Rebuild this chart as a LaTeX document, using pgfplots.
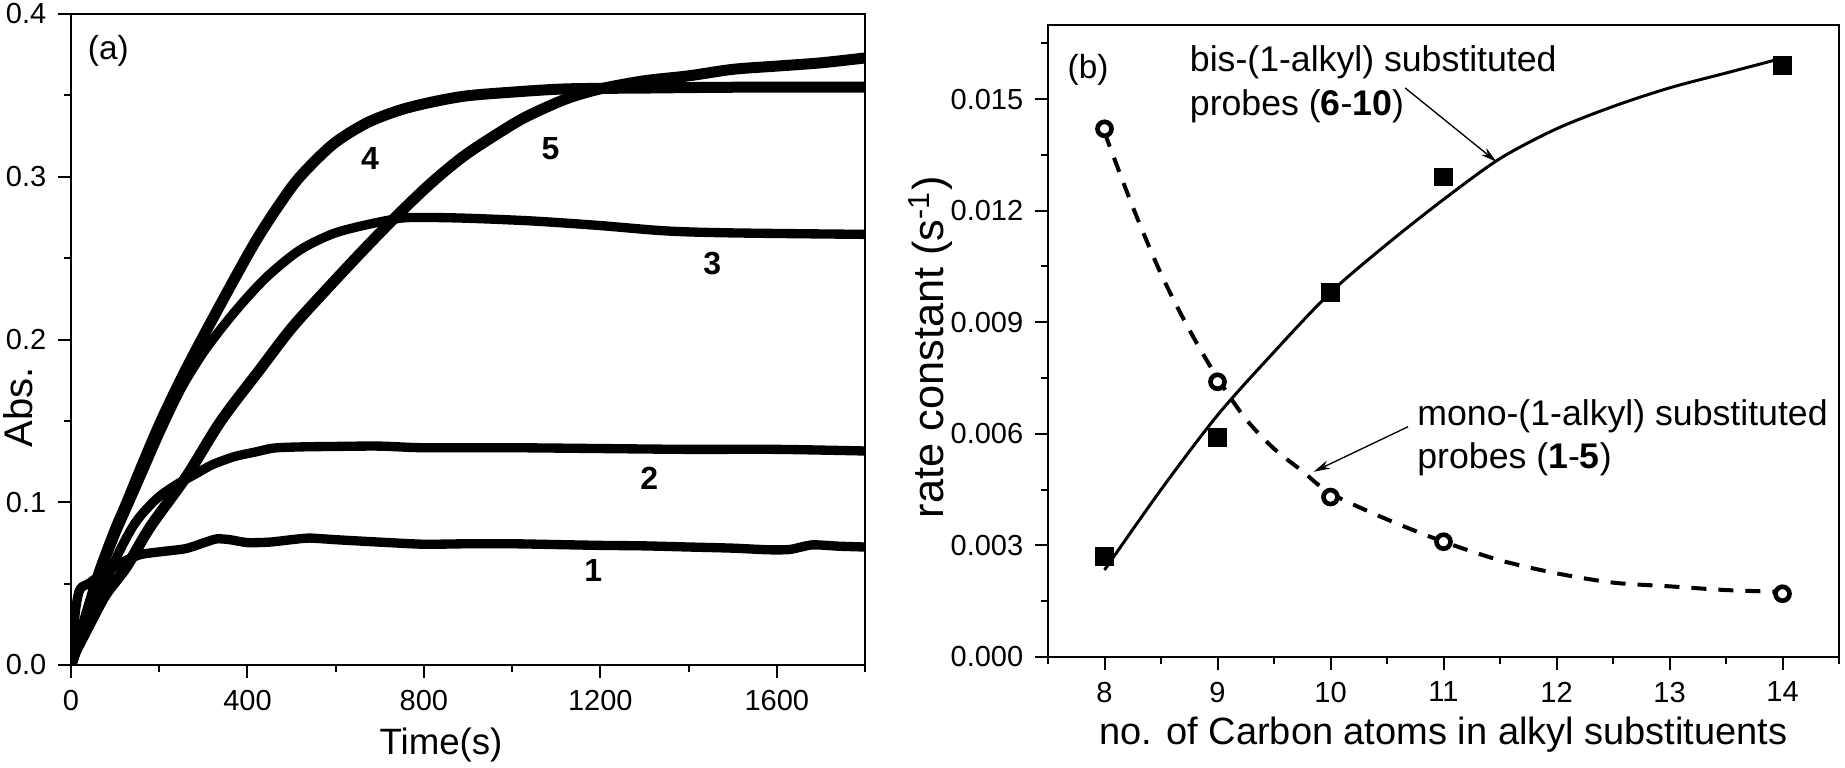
\documentclass[border=0pt]{standalone}
\usepackage{fontspec}
\setmainfont{Liberation Sans}
\usepackage{pgfplots}
\pgfplotsset{compat=1.18}
\usetikzlibrary{arrows.meta}

\begin{document}
\begin{tikzpicture}
\path[use as bounding box] (0,0) rectangle (553.5pt,230.1pt);
\pgfplotsset{
  every axis/.append style={
    scale only axis, anchor=south west,
    axis line style={line width=0.6pt},
    tick align=outside, xtick pos=left, ytick pos=left,
    major tick length=3.9pt, minor tick length=2pt,
    every tick/.style={black, line width=0.6pt},
    tick label style={font=\fontsize{8.7}{10}\selectfont},
    /pgf/number format/assume math mode=true,
    /pgf/number format/set thousands separator={},
  }
}
% ---------------- panel (a) ----------------
\begin{axis}[at={(21.3pt,30.6pt)}, width=238.2pt, height=195.3pt,
  xmin=0, xmax=1800, ymin=0, ymax=0.4,
  xtick={0,400,800,1200,1600}, ytick={0,0.1,0.2,0.3,0.4},
  minor xtick={200,600,1000,1400,1800}, minor ytick={0.05,0.15,0.25,0.35},
  yticklabel style={/pgf/number format/.cd, fixed, fixed zerofill, precision=1},
  xlabel={Time(s)}, ylabel={Abs.},
  xlabel style={font=\fontsize{11}{13}\selectfont, at={(axis description cs:0.466,-0.138)}, anchor=base},
  ylabel style={font=\fontsize{12}{14}\selectfont, at={(axis description cs:-0.066,0.396)}, anchor=center},
]
% curve 1
\addplot[black, line width=2.8pt, line join=round, line cap=round, smooth, tension=0.4] coordinates {
(0,0.000) (4,0.015) (8,0.028) (12,0.037) (18,0.045) (25,0.048) (40,0.050) (60,0.054)
(90,0.059) (130,0.065) (160,0.068) (200,0.0695) (260,0.0715) (300,0.075) (330,0.0775)
(360,0.077) (400,0.0752) (450,0.0755) (500,0.077) (540,0.078) (600,0.077) (700,0.0755)
(800,0.0742) (900,0.0745) (1000,0.0745) (1100,0.0740) (1200,0.0735) (1300,0.0732)
(1400,0.0725) (1500,0.0718) (1580,0.0708) (1630,0.0710) (1680,0.0738) (1740,0.0730) (1800,0.0725)};
% curve 2
\addplot[black, line width=2.8pt, line join=round, line cap=round, smooth] coordinates {
(0,0) (10,0.007) (25,0.017) (50,0.034) (80,0.052) (110,0.070) (140,0.085) (165,0.094)
(200,0.1035) (240,0.111) (280,0.117) (320,0.123) (370,0.128) (420,0.131) (460,0.1333)
(520,0.134) (600,0.1343) (700,0.1345) (800,0.1335) (1000,0.1335) (1200,0.133)
(1400,0.1325) (1600,0.1325) (1800,0.1315)};
% curve 3
\addplot[black, line width=2.8pt, line join=round, line cap=round, smooth] coordinates {
(0,0) (10,0.009) (25,0.021) (45,0.038) (66,0.056) (100,0.080) (126,0.096) (160,0.117)
(202,0.143) (250,0.170) (300,0.192) (350,0.210) (400,0.226) (450,0.240) (519,0.255)
(594,0.265) (670,0.2705) (746,0.2745) (800,0.275) (900,0.2745) (1048,0.2728)
(1200,0.270) (1350,0.2667) (1500,0.2655) (1800,0.2646)};
% curve 4
\addplot[black, line width=3.3pt, line join=round, line cap=round, smooth] coordinates {
(0,0) (10,0.009) (25,0.022) (45,0.040) (66,0.0585) (100,0.083) (126,0.0995) (160,0.122)
(202,0.1487) (250,0.176) (300,0.202) (368,0.236) (420,0.261) (470,0.282) (519,0.300)
(594,0.320) (670,0.333) (746,0.341) (820,0.346) (897,0.3497) (1000,0.352) (1124,0.354)
(1300,0.3545) (1500,0.355) (1800,0.355)};
% curve 5
\addplot[black, line width=3.3pt, line join=round, line cap=round, smooth] coordinates {
(0,0) (10,0.008) (25,0.016) (51,0.0297) (80,0.044) (126,0.0605) (180,0.085) (262,0.116)
(340,0.150) (428,0.1815) (500,0.207) (580,0.231) (670,0.257) (746,0.278) (820,0.297)
(897,0.314) (1000,0.332) (1048,0.339) (1124,0.348) (1200,0.354) (1300,0.359)
(1400,0.362) (1500,0.366) (1600,0.368) (1700,0.370) (1800,0.373)};
\node[anchor=base west, inner sep=0, font=\fontsize{10}{12}\selectfont] at (axis cs:37,0.3723) {(a)};
\node[anchor=base, inner sep=0, font=\bfseries\fontsize{9.6}{11}\selectfont] at (axis cs:678,0.3046) {4};
\node[anchor=base, inner sep=0, font=\bfseries\fontsize{9.6}{11}\selectfont] at (axis cs:1087,0.3108) {5};
\node[anchor=base, inner sep=0, font=\bfseries\fontsize{9.6}{11}\selectfont] at (axis cs:1454,0.240) {3};
\node[anchor=base, inner sep=0, font=\bfseries\fontsize{9.6}{11}\selectfont] at (axis cs:1311,0.1077) {2};
\node[anchor=base, inner sep=0, font=\bfseries\fontsize{9.6}{11}\selectfont] at (axis cs:1184,0.0513) {1};
\end{axis}
% ---------------- panel (b) ----------------
\begin{axis}[at={(314.4pt,33pt)}, width=237.3pt, height=189.7pt,
  xmin=7.5, xmax=14.5, ymin=0, ymax=0.017,
  xtick={8,9,10,11,12,13,14}, ytick={0,0.003,0.006,0.009,0.012,0.015},
  minor xtick={7.5,8.5,9.5,10.5,11.5,12.5,13.5,14.5},
  minor ytick={0.0015,0.0045,0.0075,0.0105,0.0135,0.0165},
  scaled y ticks=false,
  yticklabel style={/pgf/number format/.cd, fixed, fixed zerofill, precision=3},
  xlabel={no. of Carbon atoms in alkyl substituents},
  ylabel={rate constant (s\textsuperscript{-1})},
  xlabel style={font=\fontsize{11.4}{13}\selectfont, at={(axis description cs:0.5,-0.139)}, anchor=base},
  ylabel style={font=\fontsize{13}{15}\selectfont, at={(axis description cs:-0.1487,0.49)}, anchor=center},
]
\addplot[black, line width=0.9pt, smooth] coordinates {
(8,0.00234) (8.5,0.0045) (9,0.0065) (9.5,0.0082) (10,0.0098) (10.5,0.0111) (11,0.0123)
(11.5,0.0134) (12,0.0142) (12.5,0.0148) (13,0.0153) (13.5,0.0157) (14,0.0161)};
\addplot[black, line width=1.2pt, dash pattern=on 4.5pt off 3.6pt, smooth] coordinates {
(8,0.0141) (8.25,0.0121) (8.5,0.0103) (8.75,0.0088) (9,0.0075) (9.25,0.0064) (9.5,0.0056)
(9.75,0.0050) (10,0.0044) (10.5,0.0037) (11,0.0031) (11.5,0.0026) (12,0.00225)
(12.5,0.0020) (13,0.0019) (13.5,0.0018) (14,0.00175)};
\addplot[only marks, mark=square*, mark size=2.55pt, black] coordinates {
(8,0.0027) (9,0.0059) (10,0.0098) (11,0.0129) (14,0.0159)};
\addplot[only marks, mark=*, mark size=2.1pt, draw=black, fill=white, line width=1.4pt] coordinates {
(8,0.0142) (9,0.0074) (10,0.0043) (11,0.0031) (14,0.0017)};
\node[anchor=base west, inner sep=0, font=\fontsize{10}{12}\selectfont] at (axis cs:7.668,0.01556) {(b)};
\node[anchor=base west, inner sep=0, font=\fontsize{10.7}{12}\selectfont] at (axis cs:8.75,0.01573) {bis-(1-alkyl) substituted};
\node[anchor=base west, inner sep=0, font=\fontsize{10.7}{12}\selectfont] at (axis cs:8.75,0.01457) {probes (\textbf{6}-\textbf{10})};
\node[anchor=base west, inner sep=0, font=\fontsize{10.7}{12}\selectfont] at (axis cs:10.763,0.006237) {mono-(1-alkyl) substituted};
\node[anchor=base west, inner sep=0, font=\fontsize{10.7}{12}\selectfont] at (axis cs:10.763,0.00508) {probes (\textbf{1}-\textbf{5})};
\draw[-{Stealth[length=5pt,width=2.6pt]}, line width=0.4pt] (axis cs:10.66,0.0153) -- (axis cs:11.47,0.01331);
\draw[-{Stealth[length=5pt,width=2.6pt]}, line width=0.4pt] (axis cs:10.686,0.00619) -- (axis cs:9.85,0.00498);
\end{axis}
\end{tikzpicture}
\end{document}
